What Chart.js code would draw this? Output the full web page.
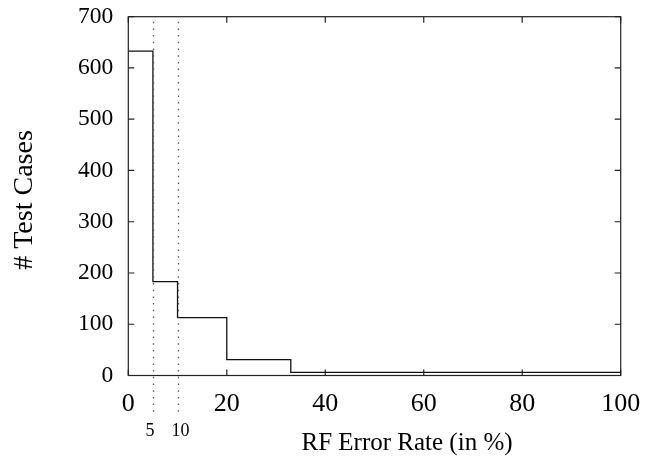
<!DOCTYPE html>
<html>
<head>
<meta charset="utf-8">
<script src="https://cdn.jsdelivr.net/npm/chart.js@4.4.1/dist/chart.umd.min.js"></script>
<style>
html,body{margin:0;padding:0;background:#fff;}
canvas{display:block;}
</style>
</head>
<body>
<canvas id="c" width="646" height="457"></canvas>
<script>
// Data (step histogram)
const binStarts = [0, 5, 10, 20, 33, 100];
const testCases = [633, 183, 113, 31, 6, 6];
const refLines = [5, 10];
const refLabels = ['5', '10'];
const xTitle = 'RF Error Rate (in %)';
const yTitle = '# Test Cases';

const points = binStarts.map((x, i) => ({x: x, y: testCases[i]}));
const serif = "'Liberation Serif', 'Times New Roman', serif";

function noOverflow(s) {
  s.paddingTop = 0; s.paddingBottom = 0; s.paddingLeft = 0; s.paddingRight = 0;
}

const decor = {
  id: 'decor',
  afterDraw(chart) {
    const ctx = chart.ctx;
    const xs = chart.scales.x, ys = chart.scales.y;
    const a = chart.chartArea;
    ctx.save();
    // frame
    ctx.strokeStyle = '#222';
    ctx.lineWidth = 1.2;
    ctx.strokeRect(a.left, a.top, a.right - a.left, a.bottom - a.top);
    // inward ticks on all sides
    const tl = 6;
    ctx.beginPath();
    xs.ticks.forEach(t => {
      const px = xs.getPixelForValue(t.value);
      ctx.moveTo(px, a.bottom); ctx.lineTo(px, a.bottom - tl);
      ctx.moveTo(px, a.top); ctx.lineTo(px, a.top + tl);
    });
    ys.ticks.forEach(t => {
      const py = ys.getPixelForValue(t.value);
      ctx.moveTo(a.left, py); ctx.lineTo(a.left + tl, py);
      ctx.moveTo(a.right, py); ctx.lineTo(a.right - tl, py);
    });
    ctx.stroke();
    // dotted reference lines
    ctx.strokeStyle = '#555';
    ctx.lineWidth = 1.3;
    ctx.setLineDash([1.5, 5.2]);
    refLines.forEach(v => {
      const px = Math.round(xs.getPixelForValue(v)) + 0.5;
      ctx.beginPath();
      ctx.moveTo(px, a.top + 5);
      ctx.lineTo(px, 412);
      ctx.stroke();
    });
    ctx.setLineDash([]);
    // reference labels
    ctx.fillStyle = '#000';
    ctx.font = '18px ' + serif;
    ctx.textAlign = 'center';
    ctx.textBaseline = 'middle';
    refLabels.forEach((s, i) => {
      const px = xs.getPixelForValue(refLines[i]);
      ctx.fillText(s, px + (i === 0 ? -3 : 3), 431);
    });
    // x title
    ctx.font = '25px ' + serif;
    ctx.textBaseline = 'alphabetic';
    ctx.textAlign = 'center';
    ctx.fillText(xTitle, 407, 449.5);
    // y title
    ctx.save();
    ctx.translate(31.5, 200);
    ctx.rotate(-Math.PI / 2);
    ctx.font = '28px ' + serif;
    ctx.textAlign = 'center';
    ctx.textBaseline = 'alphabetic';
    ctx.fillText(yTitle, 0, 0);
    ctx.restore();
    ctx.restore();
  }
};

new Chart(document.getElementById('c'), {
  type: 'line',
  data: {
    datasets: [{
      data: points,
      stepped: true,
      borderColor: '#111',
      borderWidth: 1.3,
      pointRadius: 0,
      fill: false,
      tension: 0
    }]
  },
  options: {
    responsive: false,
    animation: false,
    events: [],
    layout: {padding: {left: 0, right: 25.3, top: 16.7, bottom: 0}},
    plugins: {legend: {display: false}, tooltip: {enabled: false}},
    scales: {
      x: {
        type: 'linear',
        min: 0, max: 100,
        grid: {display: false, drawTicks: false},
        border: {display: false},
        ticks: {stepSize: 20, padding: 13, color: '#000', font: {family: serif, size: 26}, maxRotation: 0},
        afterFit(s) { s.height = 81.5; noOverflow(s); }
      },
      y: {
        min: 0, max: 700,
        grid: {display: false, drawTicks: false},
        border: {display: false},
        ticks: {stepSize: 100, padding: 15, color: '#000', font: {family: serif, size: 23.5}},
        afterFit(s) { s.width = 128.3; noOverflow(s); }
      }
    }
  },
  plugins: [decor]
});
</script>
</body>
</html>
